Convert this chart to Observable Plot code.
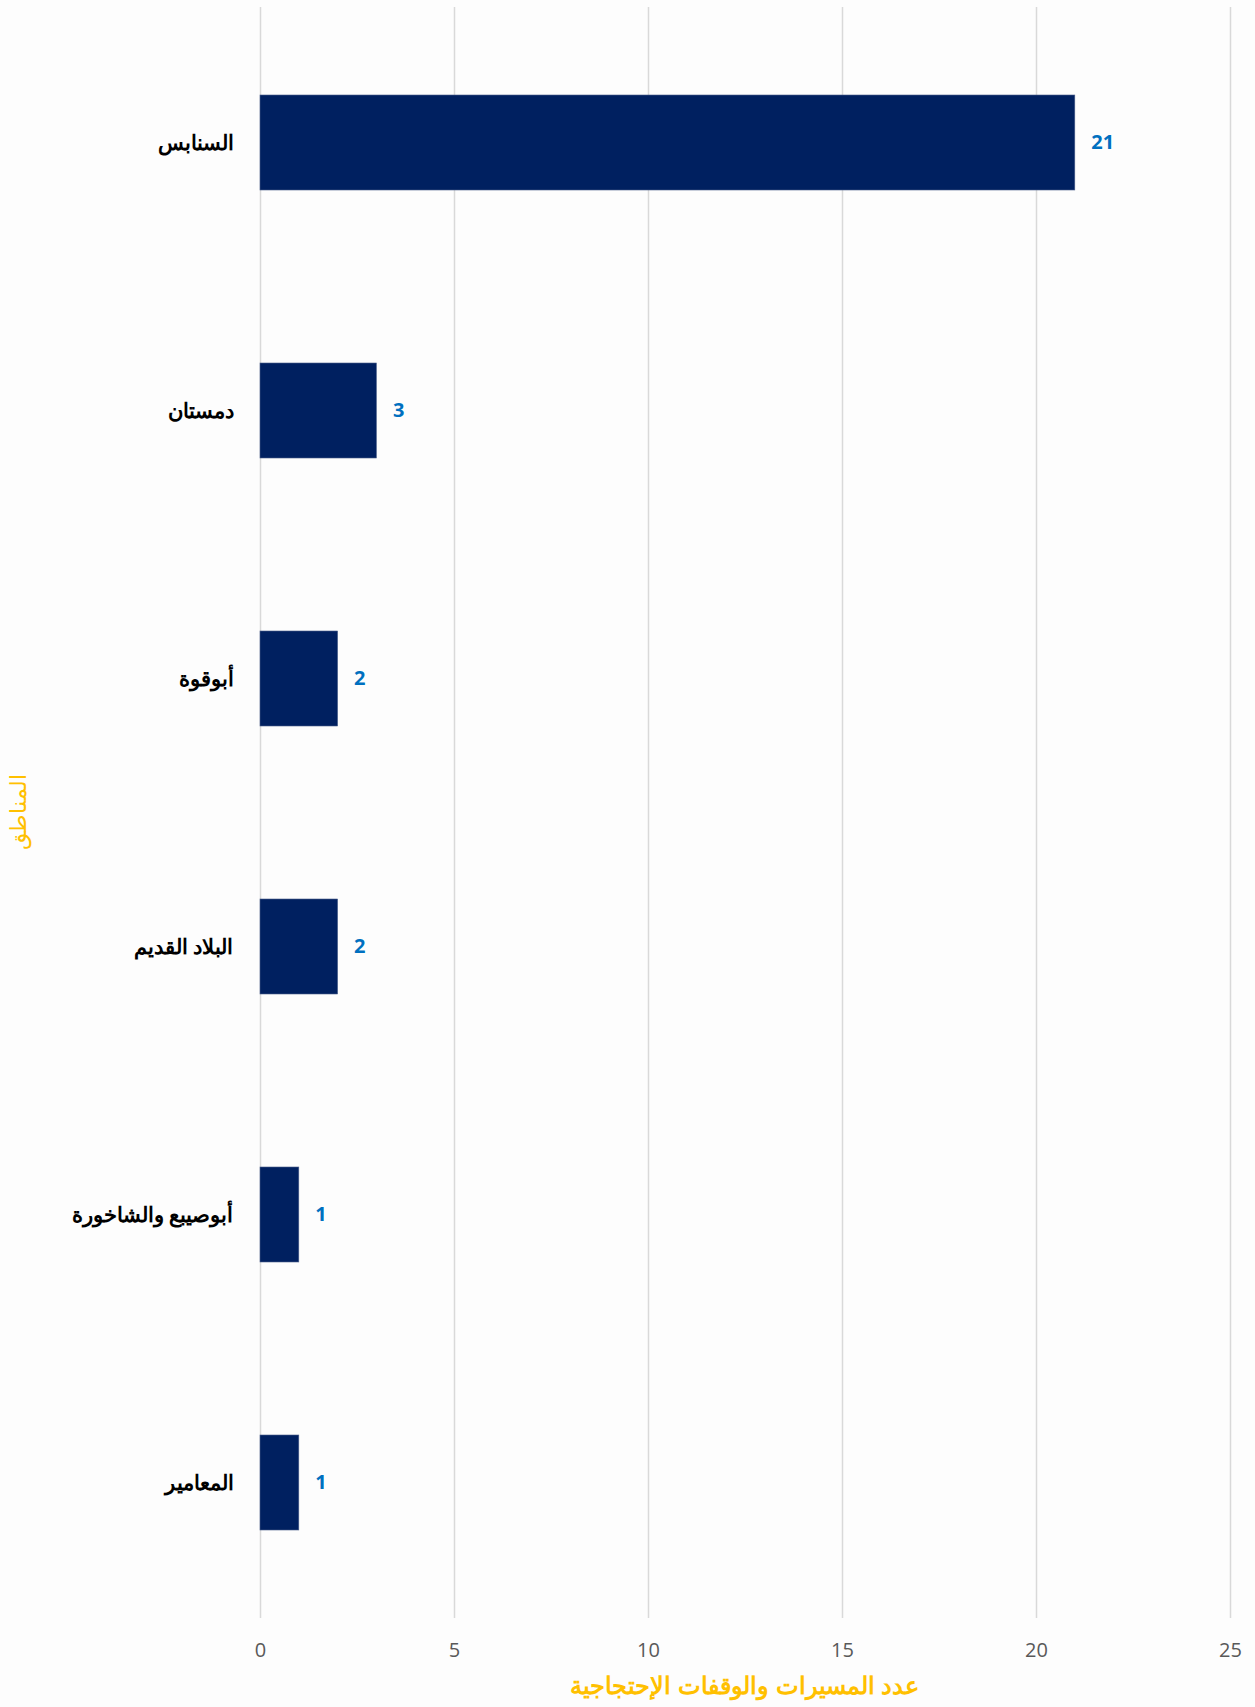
<!DOCTYPE html>
<html>
<head>
<meta charset="utf-8">
<script src="https://cdn.jsdelivr.net/npm/d3@7"></script>
<script src="https://cdn.jsdelivr.net/npm/@observablehq/plot@0.6"></script>
<style>
  html, body { margin: 0; padding: 0; background: #fdfdfd; }
  #chart svg { display: block; background: #fdfdfd; }
</style>
</head>
<body>
<div id="chart"></div>
<script>
const regions = ["السنابس", "دمستان", "أبوقوة", "البلاد القديم", "أبوصيبع والشاخورة", "المعامير"];
const counts = [21, 3, 2, 2, 1, 1];
const xTicks = [0, 5, 10, 15, 20, 25];
const xTitle = "عدد المسيرات والوقفات الإحتجاجية";
const yTitle = "المناطق";

const data = regions.map((r, i) => ({region: r, count: counts[i]}));

const chart = Plot.plot({
  width: 1255,
  height: 1707,
  marginLeft: 260,
  marginRight: 25,
  marginTop: 7,
  marginBottom: 89,
  style: {background: "#fdfdfd", fontFamily: "Liberation Sans, Arial, sans-serif"},
  x: {domain: [0, 25], ticks: xTicks},
  y: {domain: regions, paddingInner: 0.645, paddingOuter: 0.3225},
  marks: [
    Plot.gridX(xTicks, {stroke: "#d9d9d9", strokeOpacity: 1, strokeWidth: 1.5}),
    Plot.barX(data, {x: "count", y: "region", fill: "#002060", stroke: "#4a5f8a", strokeWidth: 0.6}),
    Plot.text(data, {x: "count", y: "region", text: d => String(d.count), textAnchor: "start", dx: 16,
      fill: "#0070C0", fontWeight: "bold", fontSize: 20, fontFamily: "Open Sans, Liberation Sans, sans-serif"}),
    Plot.axisY({tickSize: 0, tickPadding: 27, label: null, fontSize: 21, fontWeight: "bold", color: "#000",
      fontFamily: "Liberation Sans, Arial, sans-serif"}),
    Plot.axisX(xTicks, {tickSize: 0, tickPadding: 24, label: null, fontSize: 20, color: "#595959",
      fontFamily: "Open Sans, Lato, sans-serif"})
  ]
});

const svg = d3.select(chart);
// X axis title
svg.append("text")
  .attr("x", (260 + 1230) / 2)
  .attr("y", 1688)
  .attr("text-anchor", "middle")
  .attr("dominant-baseline", "middle")
  .attr("direction", "rtl")
  .attr("fill", "#FFC000")
  .attr("font-weight", "bold")
  .attr("font-size", 24)
  .attr("font-family", "Liberation Sans, Arial, sans-serif")
  .text(xTitle);
// Y axis title
svg.append("text")
  .attr("transform", "translate(20,812) rotate(-90)")
  .attr("text-anchor", "middle")
  .attr("dominant-baseline", "middle")
  .attr("fill", "#FFC000")
  .attr("font-size", 22)
  .attr("font-family", "Liberation Sans, Arial, sans-serif")
  .text(yTitle);

document.getElementById("chart").appendChild(chart);
</script>
</body>
</html>
